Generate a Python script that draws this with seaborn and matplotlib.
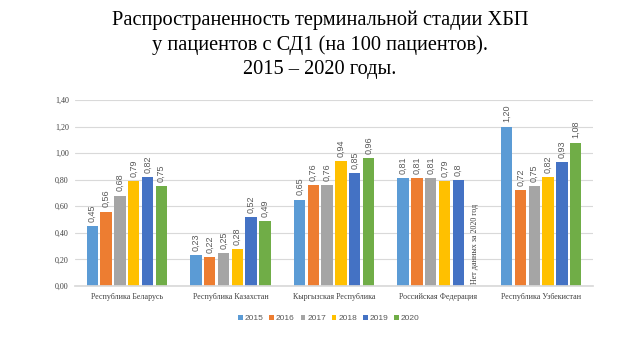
import numpy as np
import pandas as pd
import matplotlib
matplotlib.use("Agg")
import matplotlib.pyplot as plt
import seaborn as sns

countries = ["Республика Беларусь", "Республика Казахстан", "Кыргызская Республика",
             "Российская Федерация", "Республика Узбекистан"]
years = ["2015", "2016", "2017", "2018", "2019", "2020"]
v2015 = [0.45, 0.23, 0.65, 0.81, 1.20]
v2016 = [0.56, 0.22, 0.76, 0.81, 0.72]
v2017 = [0.68, 0.25, 0.76, 0.81, 0.75]
v2018 = [0.79, 0.28, 0.94, 0.79, 0.82]
v2019 = [0.82, 0.52, 0.85, 0.80, 0.93]
v2020 = [0.75, 0.49, 0.96, np.nan, 1.08]
labels_2019 = ["0,82", "0,52", "0,85", "0,8", "0,93"]
yticks = [0.0, 0.2, 0.4, 0.6, 0.8, 1.0, 1.2, 1.4]
title = "Распространенность терминальной стадии ХБП\nу пациентов с СД1 (на 100 пациентов).\n2015 – 2020 годы."
no_data_text = "Нет данных за 2020 год"

series = [v2015, v2016, v2017, v2018, v2019, v2020]
colors = ["#5B9BD5", "#ED7D31", "#A5A5A5", "#FFC000", "#4472C4", "#70AD47"]

rows = []
for y, vals in zip(years, series):
    for c, v in zip(countries, vals):
        rows.append({"country": c, "year": y, "value": v})
df = pd.DataFrame(rows)

sns.set_theme(style="white")
plt.rcParams['font.family'] = ['Liberation Serif', 'DejaVu Serif']

fig = plt.figure(figsize=(6.4, 3.6), dpi=100)
ax = fig.add_axes([75/640, 1-286/360, (593-75)/640, (286-100)/360])

sns.barplot(data=df.dropna(), x="country", y="value", hue="year", order=countries,
            hue_order=years, palette=colors, width=0.8, gap=0.18, ax=ax,
            legend=True, saturation=1, edgecolor="none")

for i, cont in enumerate(ax.containers):
    vals = series[i]
    if i == 4:
        labs = labels_2019
    else:
        labs = [f"{v:.2f}".replace(".", ",") for v in vals if not np.isnan(v)]
    ax.bar_label(cont, labels=labs, rotation=90, padding=3, fontsize=6.5,
                 color="#595959", family=["Liberation Sans", "DejaVu Sans"])

# no data annotation at Russia 2020 slot
slot = 0.8 / len(years)
x_nd = 3 - 0.4 + slot * 5.5
ax.text(x_nd + 0.03, 0.015, no_data_text, rotation=90, ha="center", va="bottom",
        fontsize=5.8, color="#404040")

ax.set_ylim(0, 1.4)
ax.set_xlim(-0.5, 4.5)
ax.set_yticks(yticks)
ax.set_yticklabels([f"{t:.2f}".replace(".", ",") for t in yticks])
ax.yaxis.grid(True, color="#D9D9D9", linewidth=0.8)
ax.set_axisbelow(True)
for s in ["top", "right", "left"]:
    ax.spines[s].set_visible(False)
ax.spines["bottom"].set_color("#D9D9D9")
ax.tick_params(axis="both", length=0, labelsize=5.8, colors="#404040")
ax.tick_params(axis="y", pad=4.5)
ax.tick_params(axis="x", pad=5)
ax.set_xlabel("")
ax.set_ylabel("")

leg = ax.legend(loc="upper center", bbox_to_anchor=(0.49, -0.115), ncol=6, frameon=False,
                handlelength=0.55, handleheight=0.55, handletextpad=0.25,
                columnspacing=0.7, prop={"family": ["Liberation Sans", "DejaVu Sans"], "size": 6.0})
for t in leg.get_texts():
    t.set_color("#595959")

fig.text(0.5, 0.972, title, ha="center", va="top", fontsize=14.7, color="black",
         linespacing=1.36)

fig.savefig("out.png", dpi=100)
